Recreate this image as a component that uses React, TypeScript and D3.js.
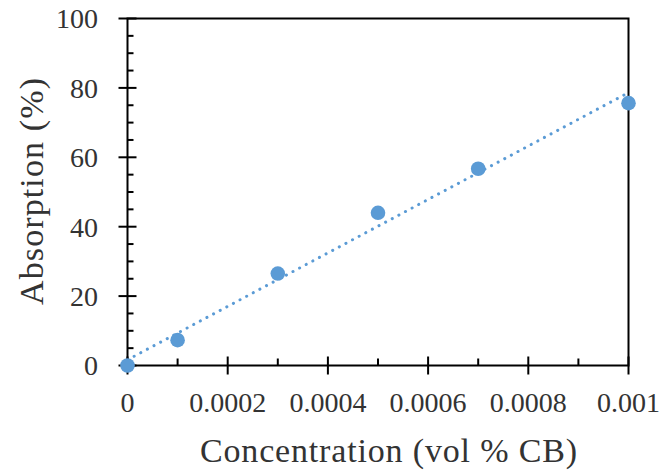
import React from "react";
import * as d3 from "d3";

const concentrations = [0, 0.0001, 0.0003, 0.0005, 0.0007, 0.001];
const absorption = [0, 7.3, 26.5, 44.0, 56.7, 75.6];
const xTicks = [0, 0.0002, 0.0004, 0.0006, 0.0008, 0.001];
const xTickLabels = ["0", "0.0002", "0.0004", "0.0006", "0.0008", "0.001"];
const xMinorTicks = [0.0001, 0.0003, 0.0005, 0.0007, 0.0009];
const yTicks = [0, 20, 40, 60, 80, 100];
const yMinorTicks = [5, 10, 15, 25, 30, 35, 45, 50, 55, 65, 70, 75, 85, 90, 95];

const W = 663;
const H = 473;
const L = 127.5;
const R = 628.5;
const T = 18.5;
const B = 365.5;
const COLOR = "#5B9BD5";
const FONT = "'Liberation Serif', 'DejaVu Serif', serif";

export default function App() {
  const x = d3.scaleLinear().domain([0, 0.001]).range([L, R]);
  const y = d3.scaleLinear().domain([0, 100]).range([B, T]);

  // least squares trendline
  const mx = d3.mean(concentrations)!;
  const my = d3.mean(absorption)!;
  let sxy = 0, sxx = 0;
  concentrations.forEach((c, i) => {
    sxy += (c - mx) * (absorption[i] - my);
    sxx += (c - mx) * (c - mx);
  });
  const slope = sxy / sxx;
  const intercept = my - slope * mx;
  const trend = d3.line<number>().x((c) => x(c)).y((c) => y(intercept + slope * c));

  return (
    <div style={{ position: "absolute", left: 0, top: 0 }}>
      <svg width={W} height={H} style={{ display: "block", background: "#fff" }}>
        <path
          d={trend([0, 0.001])!}
          fill="none"
          stroke={COLOR}
          strokeWidth={3}
          strokeLinecap="round"
          strokeDasharray="0.1 7.4"
        />
        {/* frame */}
        <rect x={L} y={T} width={R - L} height={B - T} fill="none" stroke="#000" strokeWidth={2} />
        {/* y ticks */}
        {yTicks.map((t) => (
          <line key={"ym" + t} x1={L - 9} x2={L + 9} y1={y(t)} y2={y(t)} stroke="#000" strokeWidth={2} />
        ))}
        {yMinorTicks.map((t) => (
          <line key={"yn" + t} x1={L} x2={L + 6} y1={y(t)} y2={y(t)} stroke="#000" strokeWidth={2} />
        ))}
        {xTicks.map((t) => (
          <line key={"xm" + t} x1={x(t)} x2={x(t)} y1={B - 9} y2={B + 9} stroke="#000" strokeWidth={2} />
        ))}
        {xMinorTicks.map((t) => (
          <line key={"xn" + t} x1={x(t)} x2={x(t)} y1={B - 7} y2={B} stroke="#000" strokeWidth={2} />
        ))}
        {/* points */}
        {concentrations.map((c, i) => (
          <circle key={"p" + i} cx={x(c)} cy={y(absorption[i])} r={7.3} fill={COLOR} />
        ))}
        {/* tick labels */}
        {yTicks.map((t) => (
          <text
            key={"yl" + t}
            x={98}
            y={y(t)}
            dy="0.35em"
            textAnchor="end"
            fontFamily={FONT}
            fontSize={28}
            fill="#333"
          >
            {t}
          </text>
        ))}
        {xTicks.map((t, i) => (
          <text
            key={"xl" + t}
            x={x(t)}
            y={411.5}
            textAnchor="middle"
            fontFamily={FONT}
            fontSize={28}
            fill="#333"
          >
            {xTickLabels[i]}
          </text>
        ))}
        <text
          x={388.5}
          y={461.5}
          textAnchor="middle"
          fontFamily={FONT}
          fontSize={34}
          fill="#333"
          textLength={377}
          lengthAdjust="spacing"
        >
          Concentration (vol % CB)
        </text>
        <text
          transform={`translate(43,191.5) rotate(-90)`}
          textAnchor="middle"
          fontFamily={FONT}
          fontSize={34}
          fill="#333"
          textLength={227}
          lengthAdjust="spacing"
        >
          Absorption (%)
        </text>
      </svg>
    </div>
  );
}
